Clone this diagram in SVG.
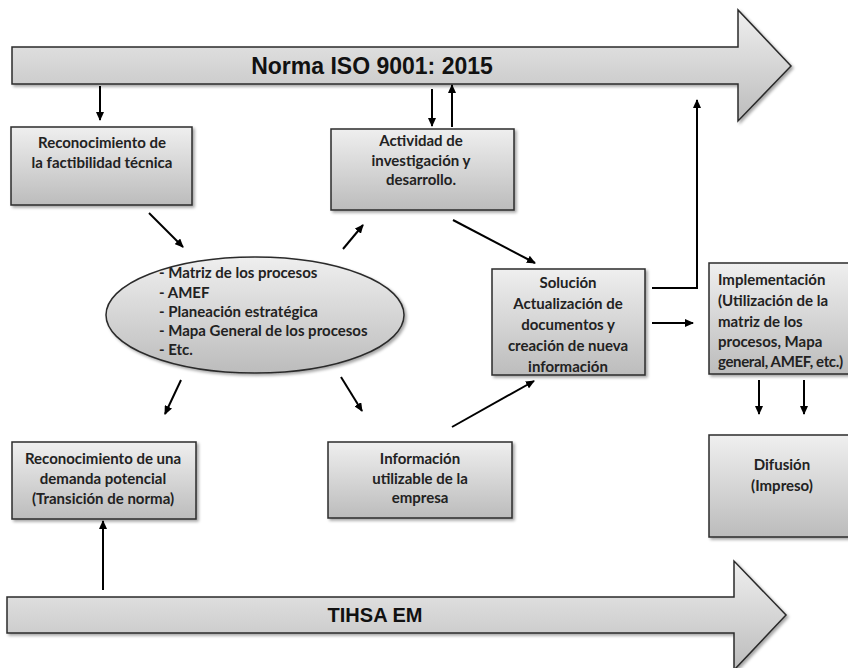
<svg xmlns="http://www.w3.org/2000/svg" width="848" height="668" viewBox="0 0 848 668">
<defs>
<linearGradient id="g" x1="0" y1="0" x2="0" y2="1">
<stop offset="0" stop-color="#efefef"/>
<stop offset="1" stop-color="#bcbcbc"/>
</linearGradient>
<filter id="sh" x="-10%" y="-10%" width="120%" height="130%">
<feDropShadow dx="2" dy="2" stdDeviation="1.5" flood-color="#000" flood-opacity="0.35"/>
</filter>
<marker id="ah" markerUnits="userSpaceOnUse" markerWidth="9" markerHeight="8" refX="8" refY="4" orient="auto">
<path d="M0,0 L9,4 L0,8 z" fill="#000"/>
</marker>
<style>
.bx{fill:url(#g);stroke:#2b2b2b;stroke-width:1.5;filter:url(#sh)}
.t{font-family:Lato,"Liberation Sans",sans-serif;font-weight:bold;font-size:15px;fill:#222}
.c{text-anchor:middle}
.big{font-family:"Liberation Sans",Arial,sans-serif;font-weight:bold;fill:#111;text-anchor:middle}
.ln{stroke:#000;stroke-width:2;fill:none;marker-end:url(#ah)}
</style>
</defs>
<rect width="848" height="668" fill="#fff"/>

<g id="norma">
<polygon class="bx" points="12,47 738,47 738,10 791,66 738,121 738,84 12,84"/>
<text class="big" x="372" y="74" font-size="23">Norma ISO 9001: 2015</text>
</g>

<g id="tihsa">
<polygon class="bx" points="7,597 734,597 734,561 786,615 734,670 734,633 7,633"/>
<text class="big" x="375" y="622" font-size="20">TIHSA EM</text>
</g>

<g id="factibilidad">
<rect class="bx" x="11" y="127" width="181" height="78"/>
<text class="t c" x="102" y="148">Reconocimiento de</text>
<text class="t c" x="102" y="168">la factibilidad técnica</text>
</g>

<g id="investigacion">
<rect class="bx" x="331" y="129" width="183" height="81"/>
<text class="t c" x="421" y="146">Actividad de</text>
<text class="t c" x="421" y="166">investigación y</text>
<text class="t c" x="421" y="185">desarrollo.</text>
</g>

<g id="herramientas">
<ellipse class="bx" cx="255" cy="315" rx="149" ry="58"/>
<text class="t" x="159" y="278">- Matriz de los procesos</text>
<text class="t" x="159" y="298">- AMEF</text>
<text class="t" x="159" y="317">- Planeación estratégica</text>
<text class="t" x="159" y="336">- Mapa General de los procesos</text>
<text class="t" x="159" y="355">- Etc.</text>
</g>

<g id="solucion">
<rect class="bx" x="492" y="269" width="153" height="106"/>
<text class="t c" x="568" y="288">Solución</text>
<text class="t c" x="568" y="309">Actualización de</text>
<text class="t c" x="568" y="330">documentos y</text>
<text class="t c" x="568" y="351">creación de nueva</text>
<text class="t c" x="568" y="372">información</text>
</g>

<g id="implementacion">
<rect class="bx" x="709" y="263" width="150" height="111"/>
<text class="t" x="718" y="285">Implementación</text>
<text class="t" x="718" y="306">(Utilización de la</text>
<text class="t" x="718" y="327">matriz de los</text>
<text class="t" x="718" y="347">procesos, Mapa</text>
<text class="t" x="718" y="367" letter-spacing="-0.35">general, AMEF, etc.)</text>
</g>

<g id="difusion">
<rect class="bx" x="709" y="435" width="150" height="102"/>
<text class="t c" x="782" y="470">Difusión</text>
<text class="t c" x="782" y="491">(Impreso)</text>
</g>

<g id="demanda">
<rect class="bx" x="12" y="442" width="184" height="77"/>
<text class="t c" x="103" y="464">Reconocimiento de una</text>
<text class="t c" x="103" y="484">demanda potencial</text>
<text class="t c" x="103" y="504">(Transición de norma)</text>
</g>

<g id="informacion">
<rect class="bx" x="328" y="442" width="184" height="76"/>
<text class="t c" x="420" y="464">Información</text>
<text class="t c" x="420" y="484">utilizable de la</text>
<text class="t c" x="420" y="503">empresa</text>
</g>

<g id="connectors">
<line class="ln" x1="100" y1="86" x2="100" y2="120"/>
<line class="ln" x1="432" y1="89" x2="432" y2="126"/>
<line class="ln" x1="452" y1="127" x2="452" y2="85"/>
<polyline class="ln" points="652,288 697,288 697,100"/>
<line class="ln" x1="149" y1="213" x2="183" y2="247"/>
<line class="ln" x1="343" y1="249" x2="363" y2="225"/>
<line class="ln" x1="453" y1="220" x2="535" y2="263"/>
<line class="ln" x1="181" y1="380" x2="165" y2="414"/>
<line class="ln" x1="341" y1="377" x2="362" y2="411"/>
<line class="ln" x1="452" y1="427" x2="534" y2="381"/>
<line class="ln" x1="652" y1="323" x2="693" y2="323"/>
<line class="ln" x1="759" y1="380" x2="759" y2="414"/>
<line class="ln" x1="804" y1="380" x2="804" y2="414"/>
<line class="ln" x1="103" y1="590" x2="103" y2="521"/>
</g>
</svg>
